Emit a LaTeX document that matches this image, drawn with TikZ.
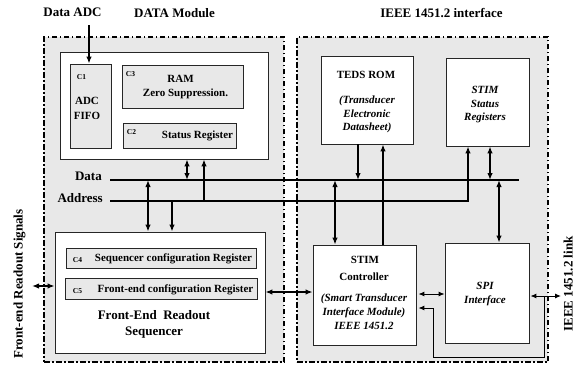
\documentclass[tikz,border=0pt]{standalone}
\usepackage{fontspec}
\setmainfont{Liberation Serif}
\usetikzlibrary{arrows.meta}
\begin{document}
\begin{tikzpicture}[x=1pt,y=-1pt,
  module/.style={draw=black, line width=1.2pt, dash pattern=on 5.5pt off 2.5pt on 1.5pt off 2.5pt, fill=gray!18},
  wbox/.style={draw=black!85, line width=0.8pt, fill=white, inner sep=0pt},
  gbox/.style={draw=black!85, line width=0.8pt, fill=gray!18, inner sep=0pt},
  lbl/.style={font=\bfseries\fontsize{11}{13}\selectfont, inner sep=0pt, text height=0.7em, text depth=0.2em},
  ilbl/.style={font=\bfseries\itshape\fontsize{11}{13}\selectfont, inner sep=0pt, text height=0.7em, text depth=0.2em},
  tag/.style={font=\bfseries\fontsize{7.5}{9}\selectfont, inner sep=0pt, text height=0.7em, text depth=0.2em},
  title/.style={font=\bfseries\fontsize{13}{15}\selectfont, inner sep=0pt, text height=0.7em, text depth=0.2em},
  bus/.style={line width=2pt},
  wire/.style={line width=1.6pt, >={Latex[length=7pt,width=5.5pt]}},
  fine/.style={line width=1pt, >={Latex[length=6pt,width=5pt]}}
]
\useasboundingbox (0,0) rectangle (580,372);

% module frames
\node[module, minimum width=240pt, minimum height=325pt] (modL) at (164,199.5) {};
\node[module, minimum width=251pt, minimum height=325pt] (modR) at (422.5,199.5) {};

% DATA module blocks
\node[wbox, minimum width=208pt, minimum height=107pt] (inner) at (164,105.5) {};
\node[gbox, minimum width=41pt, minimum height=84pt] (fifo) at (90.5,106) {};
\node[gbox, minimum width=121pt, minimum height=43pt] (ram) at (182.5,86.5) {};
\node[gbox, minimum width=113pt, minimum height=25pt] (status) at (179.5,135.5) {};
\node[wbox, minimum width=210pt, minimum height=121pt] (seq) at (160,292.5) {};
\node[gbox, minimum width=190pt, minimum height=20pt] (c4) at (161,258) {};
\node[gbox, minimum width=192pt, minimum height=21pt] (c5) at (161,288.5) {};

% IEEE 1451.2 blocks
\node[wbox, minimum width=92pt, minimum height=88pt] (teds) at (367,100) {};
\node[wbox, minimum width=83pt, minimum height=88pt] (stsreg) at (487.5,102) {};
\node[wbox, minimum width=103pt, minimum height=100pt] (ctrl) at (364.5,295) {};
\node[wbox, minimum width=84pt, minimum height=100pt] (spi) at (487,293) {};

% buses
\coordinate (dL) at (110,180);
\coordinate (dR) at (519,180);
\coordinate (aL) at (110,201);
\coordinate (aK) at (468,201);
\draw[bus] (dL) -- (dR);
\draw[bus, >={Latex[length=7pt,width=5.5pt]}, ->] (aL) -- (aK) -- (stsreg.south -| aK);

% bus taps
\coordinate (d148) at (148,180);
\coordinate (d187) at (187,180);
\coordinate (d335) at (335,180);
\coordinate (d358) at (358,180);
\coordinate (x383) at (383,180);
\coordinate (d490) at (490,180);
\coordinate (d499) at (499,180);
\coordinate (a172) at (172,201);
\coordinate (a204) at (204,201);
\coordinate (adcin) at (89,25);

\draw[wire,->] (adcin) -- (fifo.north -| adcin);
\draw[wire,<->] (inner.south -| d187) -- (d187);
\draw[wire,->] (a204) -- (inner.south -| a204);
\draw[wire,<->] (d148) -- (seq.north -| d148);
\draw[wire,->] (a172) -- (seq.north -| a172);
\draw[wire,->] (teds.south -| d358) -- (d358);
\draw[wire,->] (ctrl.north -| x383) -- (teds.south -| x383);
\draw[wire,<->] (d335) -- (ctrl.north -| d335);
\draw[wire,<->] (stsreg.south -| d490) -- (d490);
\draw[wire,<->] (d499) -- (spi.north -| d499);

% horizontal links
\coordinate (y292) at (0,292);
\coordinate (feout) at (32,286);
\coordinate (y294) at (0,294);
\coordinate (linkout) at (561,296);
\draw[wire,<->] (seq.east |- y292) -- (ctrl.west |- y292);
\draw[wire,<->] (feout) -- (seq.west |- feout);
\draw[fine,<->] ([xshift=2pt]ctrl.east |- y294) -- (spi.west |- y294);
\draw[fine,<->] ([xshift=1pt]spi.east |- linkout) -- (linkout);
\coordinate (lp1) at (544,296);
\coordinate (lp2) at (544,357);
\coordinate (lp3) at (433,357);
\coordinate (lp4) at (433,308);
\draw[fine,->] (lp1) -- (lp2) -- (lp3) -- (lp4) -- ([xshift=2pt]ctrl.east |- lp4);

% titles
\node[title] (tadc) at (72.5,14) {Data ADC};
\node[title] (tdm) at (174.5,15) {DATA Module};
\node[title] (tieee) at (441.5,15) {IEEE 1451.2 interface};
\node[title, rotate=90] (tfe) at (20,284) {Front-end Readout Signals};
\node[title, rotate=90] (tlink) at (570,284) {IEEE  1451.2 link};
\node[title, anchor=east] (ldata) at (102,178) {Data};
\node[title, anchor=east] (laddr) at (103,200) {Address};

% DATA module texts
\node[tag] (tc1) at (81.5,77) {C1};
\node[lbl] (tadc2) at (87,102) {ADC};
\node[lbl] (tfifo) at (87,117) {FIFO};
\node[tag] (tc3) at (130.5,74) {C3};
\node[lbl] (tram) at (180.5,80) {RAM};
\node[lbl] (tzero) at (185.5,94) {Zero Suppression.};
\node[tag] (tc2) at (131.5,132) {C2};
\node[lbl] (tstat) at (197.5,136) {Status Register};
\node[tag] (tc4) at (77.5,260) {C4};
\node[lbl] (tseqc) at (173.5,259) {Sequencer configuration Register};
\node[tag] (tc5) at (77.5,291) {C5};
\node[lbl] (tfec) at (175.5,290) {Front-end configuration Register};
\node[title] (tfer) at (154,317) {Front-End\ \ Readout};
\node[title] (tseq) at (154,333) {Sequencer};

% IEEE 1451.2 texts
\node[lbl] (tteds) at (366,76) {TEDS ROM};
\node[ilbl] (ttr) at (367,101) {(Transducer};
\node[ilbl] (tel) at (367,115) {Electronic};
\node[ilbl] (tds) at (367,128) {Datasheet)};
\node[ilbl] (tst1) at (485,91) {STIM};
\node[ilbl] (tst2) at (485,105) {Status};
\node[ilbl] (tst3) at (485,118) {Registers};
\node[lbl] (tc1a) at (365,261) {STIM};
\node[lbl] (tc1b) at (364,278) {Controller};
\node[ilbl] (tc1c) at (364,299) {(Smart Transducer};
\node[ilbl] (tc1d) at (364,313) {Interface Module)};
\node[ilbl] (tc1e) at (364,327) {IEEE 1451.2};
\node[ilbl] (tspi1) at (485,287) {SPI};
\node[ilbl] (tspi2) at (485,301) {Interface};
\end{tikzpicture}
\end{document}
